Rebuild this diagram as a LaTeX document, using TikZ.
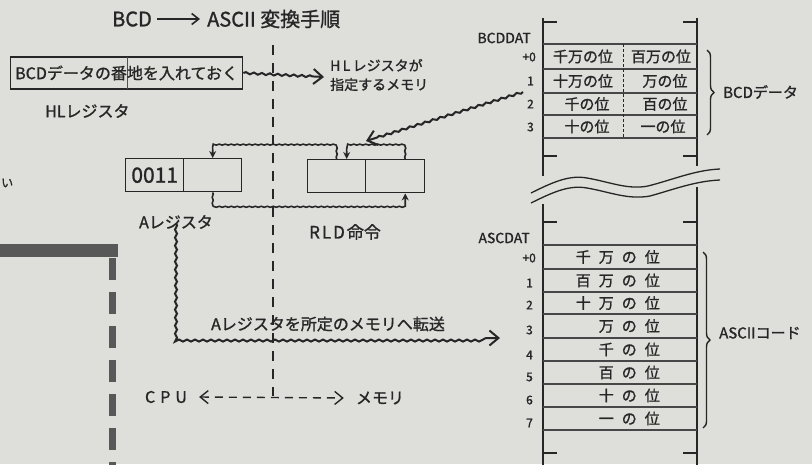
\documentclass[tikz,border=0pt]{standalone}
\usepackage{fontspec}
\setmainfont{Noto Sans CJK JP}[FakeBold=1.2]
\usetikzlibrary{arrows.meta,decorations.pathmorphing,decorations.pathreplacing}
\definecolor{paper}{RGB}{222,222,219}
\definecolor{ink}{RGB}{38,38,38}
\definecolor{barc}{RGB}{88,88,88}
\newcommand{\kq}{\kern8pt}
\begin{document}
\begin{tikzpicture}[x=1pt,y=-1pt]
\tikzset{
  every node/.style={text=ink, inner sep=0pt},
  f12/.style={font=\fontsize{12pt}{14pt}\selectfont},
  f14/.style={font=\fontsize{14pt}{19pt}\selectfont},
  f15/.style={font=\fontsize{15pt}{17pt}\selectfont},
  f16/.style={font=\fontsize{16pt}{18pt}\selectfont},
  f17/.style={font=\fontsize{17pt}{19pt}\selectfont},
  f20/.style={font=\fontsize{20pt}{22pt}\selectfont},
  boxline/.style={draw=ink, line width=1.4pt},
  regbox/.style={draw=ink, line width=1.4pt, minimum height=33pt, inner sep=0pt, anchor=north west},
  thinline/.style={draw=ink, line width=1.1pt},
  rowline/.style={draw=ink!85, line width=1.1pt},
  wavy/.style={draw=ink, line width=2pt, decorate,
     decoration={snake, amplitude=1pt, segment length=8pt, post length=10pt}},
  loopline/.style={draw=ink, line width=1.6pt, decorate,
     decoration={snake, amplitude=0.5pt, segment length=6pt, post length=7pt},
     -{Stealth[length=7pt,width=7pt]}},
  barb/.style={-{Straight Barb[length=9pt,width=15pt]}},
  centerdash/.style={draw=ink, line width=1.4pt, dash pattern=on 10pt off 8pt},
}
\fill[paper] (0,0) rectangle (812,464);
\useasboundingbox (0,0) rectangle (812,464);

% left fragments of the neighbouring figure
\fill[barc] (0,244) rectangle (118,257);
\draw[barc, line width=7pt, dash pattern=on 22pt off 12pt] (112,258) -- (112,470);
\node[f12, anchor=west] (frag) at (1,183) {い};

% title
\node[f20, anchor=west] (tbcd) at (112,19) {BCD};
\node[f20, anchor=west] (tasc) at (207,19) {ASCII 変換手順};
\draw[ink, line width=1.6pt, -{Straight Barb[length=7pt,width=11pt]}] ([xshift=5pt]tbcd.east) -- ([xshift=-7pt]tasc.west);

% centre dashed divider
\coordinate (ctop) at (273,45);
\coordinate (cbot) at (273,396);
\draw[centerdash] (ctop) -- (cbot);

% HL register box
\node[boxline, minimum width=232pt, minimum height=32pt, anchor=west] (hlbox) at (10,73) {};
\draw[ink!80, line width=0.8pt] (127,57) -- (127,89);
\node[f16, anchor=west] (hltext) at (15,73) {BCDデータの番地を入れておく};
\node[f16, anchor=west] (hllabel) at (45,111) {HLレジスタ};
\node[f14, anchor=west, align=left] (hlnote) at (330,75) {H\,L\,レジスタが\\指定するメモリ};
\draw[wavy, barb] (hlbox.east) -- ([xshift=-6pt,yshift=-2pt]hlnote.west);

% A register
\node[regbox, minimum width=58pt] (a1) at (125,158) {\fontsize{21pt}{21pt}\selectfont 0011};
\node[regbox, minimum width=58pt] (a2) at (183,158) {};
\node[f16] (alabel) at (176,222) {Aレジスタ};
% memory (RLD) box
\node[regbox, minimum width=58pt] (m1) at (307,159) {};
\node[regbox, minimum width=59pt] (m2) at (365,159) {};
\node[f17] (rldlabel) at (345,232) {R\kern2pt L\kern2pt D\kern2pt 命令};

% RLD data paths
\draw[loopline] (m1.north) -- ++(0,-12) -| (a2.north);
\draw[loopline] ([xshift=10pt]m2.north) -- ++(0,-11) -| ([xshift=10pt]m1.north);
\draw[loopline] (a2.south) -- ++(0,13) -| ([xshift=10pt]m2.south);

% upper memory column
\draw[thinline] (543,18) -- (543,176);
\draw[thinline] (697,18) -- (697,166);
\draw[thinline] (543,22) -- (557,22) (683,22) -- (697,22);
\draw[thinline] (543,156) -- (557,156) (683,156) -- (697,156);
\foreach \yy in {44,69,93,115,138} \draw[rowline] (543,\yy) -- (697,\yy);
\draw[ink, line width=1pt, dash pattern=on 3pt off 2pt] (623,44) -- (623,138);
\node[f14, anchor=east] (bcddat) at (531,38) {BCDDAT};
\node[f12, anchor=east] (u0) at (536,57) {+0};
\node[f12, anchor=east] (u1) at (534,81) {1};
\node[f12, anchor=east] (u2) at (534,104) {2};
\node[f12, anchor=east] (u3) at (534,127) {3};
\node[f15] (ul1) at (583,56.5) {千万の位};
\node[f15] (ur1) at (661,56.5) {百万の位};
\node[f15] (ul2) at (583,81) {十万の位};
\node[f15] (ur2) at (665,81) {万の位};
\node[f15] (ul3) at (587,104) {千の位};
\node[f15] (ur3) at (665,104) {百の位};
\node[f15] (ul4) at (587,126.5) {十の位};
\node[f15] (ur4) at (663,126.5) {一の位};
\draw[ink, line width=1.4pt, decorate, decoration={brace, amplitude=7pt}] (707,50) -- (707,135);
\node[f15, anchor=west] (bcdnote) at (723,92) {BCDデータ};

% diagonal arrow from memory to RLD box
\coordinate (memptr) at (523,92);
\coordinate (rldin) at (366,141);
\draw[wavy, barb] (memptr) -- (rldin);

% break marks
\draw[ink, line width=1.3pt] (531,193) .. controls (555,181) and (570,175) .. (587,178) .. controls (610,182) and (628,190) .. (648,186) .. controls (672,180) and (695,170) .. (720,169);
\draw[ink, line width=1.3pt] (531,203) .. controls (555,191) and (570,185) .. (587,188) .. controls (610,192) and (628,200) .. (650,196) .. controls (672,190) and (695,181) .. (720,180);

% lower memory column
\draw[thinline] (543,204) -- (543,470);
\draw[thinline] (697,187) -- (697,470);
\draw[thinline] (543,222) -- (557,222) (683,222) -- (697,222);
\draw[thinline] (543,453) -- (557,453) (683,453) -- (697,453);
\foreach \yy in {245,269,292,314,338,361,384,407,430} \draw[rowline] (543,\yy) -- (697,\yy);
\node[f14, anchor=east] (ascdat) at (530,238) {ASCDAT};
\node[f12, anchor=east] (l0) at (536,258) {+0};
\node[f12, anchor=east] (l1) at (533,283) {1};
\node[f12, anchor=east] (l2) at (533,305) {2};
\node[f12, anchor=east] (l3) at (533,330) {3};
\node[f12, anchor=east] (l4) at (533,355) {4};
\node[f12, anchor=east] (l5) at (533,377) {5};
\node[f12, anchor=east] (l6) at (533,400) {6};
\node[f12, anchor=east] (l7) at (533,423) {7};
\node[f15, anchor=east] (r1) at (660,257) {千\kq 万\kq の\kq 位};
\node[f15, anchor=east] (r2) at (660,280.5) {百\kq 万\kq の\kq 位};
\node[f15, anchor=east] (r3) at (660,303) {十\kq 万\kq の\kq 位};
\node[f15, anchor=east] (r4) at (660,326) {万\kq の\kq 位};
\node[f15, anchor=east] (r5) at (660,349.5) {千\kq の\kq 位};
\node[f15, anchor=east] (r6) at (660,372.5) {百\kq の\kq 位};
\node[f15, anchor=east] (r7) at (660,395.5) {十\kq の\kq 位};
\node[f15, anchor=east] (r8) at (660,418.5) {一\kq の\kq 位};
\draw[ink, line width=1.4pt, decorate, decoration={brace, amplitude=7pt}] (703,252) -- (703,428);
\node[f15, anchor=west] (ascnote) at (719,333) {ASCIIコード};

% A register to memory
\coordinate (ascin) at (500,338);
\node[f16] (movetext) at (328,324) {Aレジスタを所定のメモリへ転送};
\draw[wavy, barb] ([yshift=6pt]alabel.south) |- (ascin);

% CPU / memory
\node[f16] (cpu) at (166,397) {C\kern5pt P\kern5pt U};
\node[f16] (memlbl) at (380,398) {メモリ};
\draw[ink, line width=1.4pt, dash pattern=on 8pt off 6pt, {Straight Barb[length=8pt,width=13pt]}-{Straight Barb[length=8pt,width=13pt]}] ([xshift=12pt]cpu.east) -- ([xshift=-12pt]memlbl.west);
\end{tikzpicture}
\end{document}
